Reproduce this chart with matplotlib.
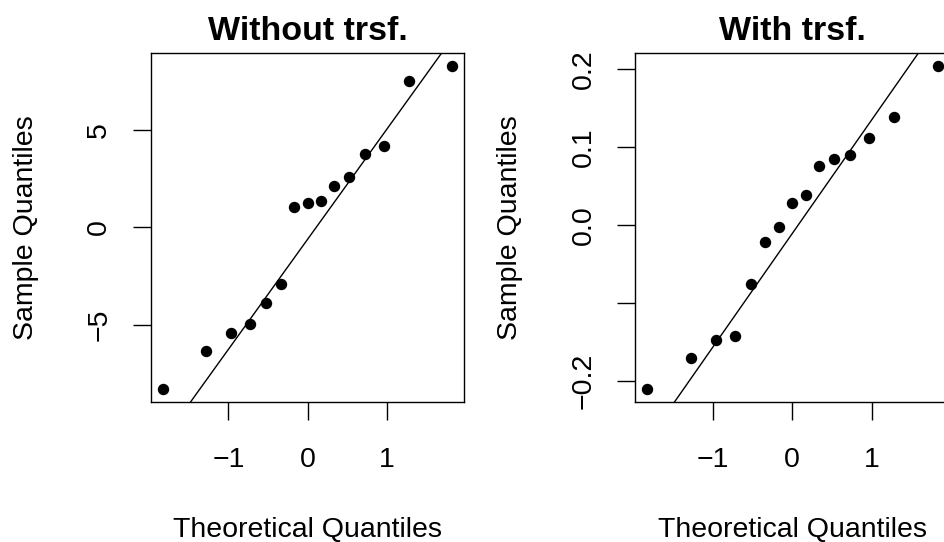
import matplotlib
matplotlib.use('Agg')
import matplotlib.pyplot as plt
import numpy as np

plt.rcParams['font.family'] = ['Liberation Sans', 'DejaVu Sans']

# theoretical normal quantiles for n = 15 (x positions of the points)
theo_q = [-1.834, -1.282, -0.967, -0.728, -0.524, -0.341, -0.168, 0.0,
          0.168, 0.341, 0.524, 0.728, 0.967, 1.282, 1.834]

# sample quantiles, raw data
raw_q = [-8.28, -6.35, -5.41, -4.95, -3.89, -2.89, 1.02, 1.23,
         1.33, 2.10, 2.58, 3.77, 4.16, 7.52, 8.29]

# sample quantiles after the transformation
trsf_q = [-0.210, -0.170, -0.147, -0.142, -0.076, -0.022, -0.003, 0.028,
          0.038, 0.075, 0.085, 0.089, 0.111, 0.138, 0.204]

titles = ['Without trsf.', 'With trsf.']
xticks = [-1, 0, 1]
xtick_labels = ['\u22121', '0', '1']
yticks_raw = [-5, 0, 5]
ytick_labels_raw = ['\u22125', '0', '5']
yticks_trsf = [-0.2, -0.1, 0.0, 0.1, 0.2]
ytick_labels_trsf = ['\u22120.2', '', '0.0', '0.1', '0.2']

FS = 20.5


def qq_panel(ax, sample, title, yticks, ylabels):
    x = np.array(theo_q)
    y = np.array(sample)
    ax.plot(x, y, 'o', color='black', markersize=7.2)

    # qqline: line through the first and third quartiles
    q1, q3 = np.quantile(y, [0.25, 0.75])
    z = 0.6745
    slope = (q3 - q1) / (2 * z)
    ax.axline((0, q1 + slope * z), slope=slope, color='black', lw=1.0)

    # R style 4% axis extension
    xpad = 0.04 * (x.max() - x.min())
    ypad = 0.04 * (y.max() - y.min())
    ax.set_xlim(x.min() - xpad, x.max() + xpad)
    ax.set_ylim(y.min() - ypad, y.max() + ypad)

    ax.set_xticks(xticks, xtick_labels)
    ax.set_yticks(yticks, ylabels)
    ax.tick_params(axis='both', length=13, width=1.0, labelsize=FS, direction='out')
    ax.tick_params(axis='x', pad=19.5)
    ax.tick_params(axis='y', pad=15, labelrotation=90)
    for lbl in ax.get_yticklabels():
        lbl.set_va('center')
    for sp in ax.spines.values():
        sp.set_linewidth(1.0)

    ax.set_title(title, fontsize=24.5, fontweight='bold', y=1.036, pad=0)
    ax.set_xlabel('Theoretical Quantiles', fontsize=FS)
    ax.xaxis.set_label_coords(0.5, -0.388)
    ax.xaxis.label.set_va('baseline')
    ax.set_ylabel('Sample Quantiles', fontsize=FS)
    ax.yaxis.set_label_coords(-0.377, 0.5)
    ax.yaxis.label.set_va('baseline')


fig = plt.figure(figsize=(9.44, 5.42), dpi=100)
ax1 = fig.add_axes([151 / 944, 1 - 401.7 / 542, 313 / 944, 349 / 542])
ax2 = fig.add_axes([635.3 / 944, 1 - 401.7 / 542, 314 / 944, 349 / 542])

qq_panel(ax1, raw_q, titles[0], yticks_raw, ytick_labels_raw)
qq_panel(ax2, trsf_q, titles[1], yticks_trsf, ytick_labels_trsf)

fig.savefig('out.png', dpi=100)
